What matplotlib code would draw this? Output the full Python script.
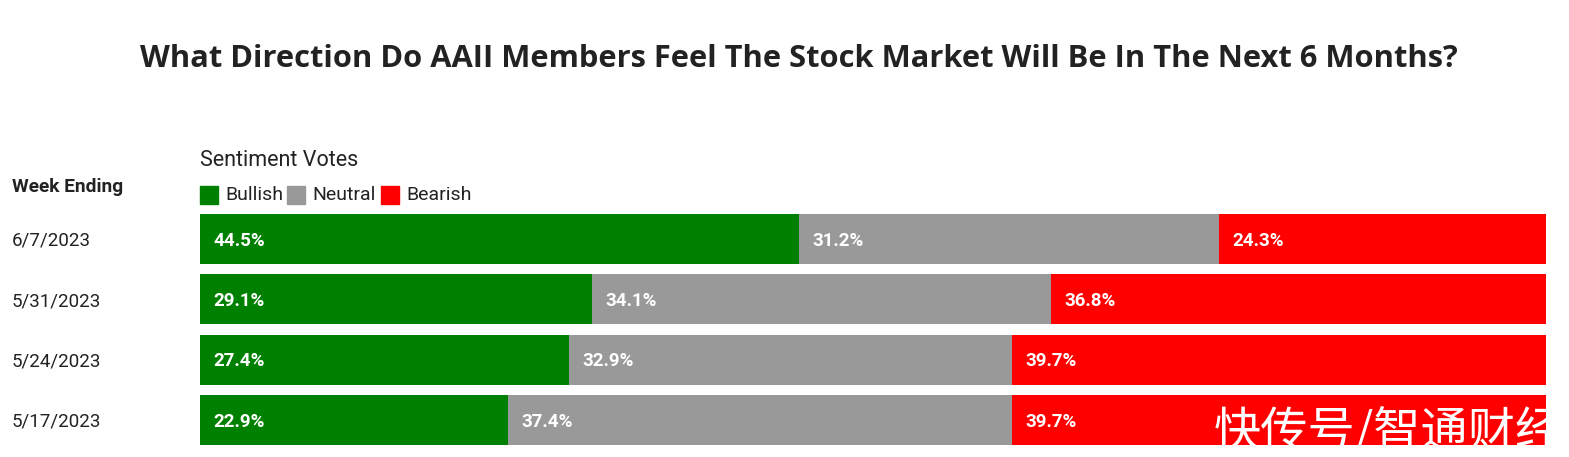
import matplotlib
matplotlib.use("Agg")
import matplotlib.pyplot as plt
from matplotlib.patches import Rectangle

plt.rcParams['font.family'] = ['Roboto', 'DejaVu Sans']

weeks = ["6/7/2023", "5/31/2023", "5/24/2023", "5/17/2023"]
series = ["Bullish", "Neutral", "Bearish"]
bullish = [44.5, 29.1, 27.4, 22.9]
neutral = [31.2, 34.1, 32.9, 37.4]
bearish = [24.3, 36.8, 39.7, 39.7]
colors = ["#008000", "#999999", "#ff0000"]

W, H = 1569, 457
fig = plt.figure(figsize=(W / 100, H / 100), dpi=100)

def fx(px):
    return px / W

def fy(py):
    return 1 - py / H

ax = fig.add_axes([fx(200), fy(450), fx(1546) - fx(200), fy(209) - fy(450)])
ax.set_xlim(0, 100)
ax.set_ylim(len(weeks) - 0.5, -0.5)
ax.axis('off')

bh = 50 / 60
ypos = list(range(len(weeks)))
left = [0] * len(weeks)
for vals, col in zip([bullish, neutral, bearish], colors):
    ax.barh(ypos, vals, left=left, height=bh, color=col, edgecolor='none')
    for i, v in enumerate(vals):
        ax.text(left[i] + 1.0, ypos[i] + 0.03, f"{v}%", color='white', fontsize=13.5,
                fontweight='bold', va='center', ha='left')
    left = [l + v for l, v in zip(left, vals)]

# watermark (clipped horizontally at the bar end only)
wm = ax.text(75.3, 3.22, "快传号/智通财经", color='white', fontsize=34,
             family=['Noto Sans CJK SC', 'DejaVu Sans'], va='center', ha='left')
clip_rect = Rectangle((0, 0), fx(1546), 1, transform=fig.transFigure)
wm.set_clip_path(clip_rect)
wm.set_clip_on(True)

# week labels
for i, w in enumerate(weeks):
    ax.text(-14.0, ypos[i] + 0.03, w, fontsize=13.5, color='#222222', va='center', ha='left')

fig.text(fx(799), fy(59), "What Direction Do AAII Members Feel The Stock Market Will Be In The Next 6 Months?",
         fontsize=22.2, fontweight='bold', color='#222222', ha='center', va='center',
         family=['Open Sans', 'DejaVu Sans'])
fig.text(fx(12), fy(187), "Week Ending", fontsize=13.8, fontweight='bold', color='#222222',
         ha='left', va='center')
fig.text(fx(200), fy(160), "Sentiment Votes", fontsize=15.5, color='#222222', ha='left', va='center')

leg_x = [200, 287, 381]
for lx, name, col in zip(leg_x, series, colors):
    fig.patches.append(Rectangle((fx(lx), fy(204)), fx(18), 18 / H, transform=fig.transFigure,
                                 color=col, figure=fig))
    fig.text(fx(lx + 25), fy(195), name, fontsize=14, color='#222222', ha='left', va='center')

fig.savefig("out.png", dpi=100, facecolor='white')
